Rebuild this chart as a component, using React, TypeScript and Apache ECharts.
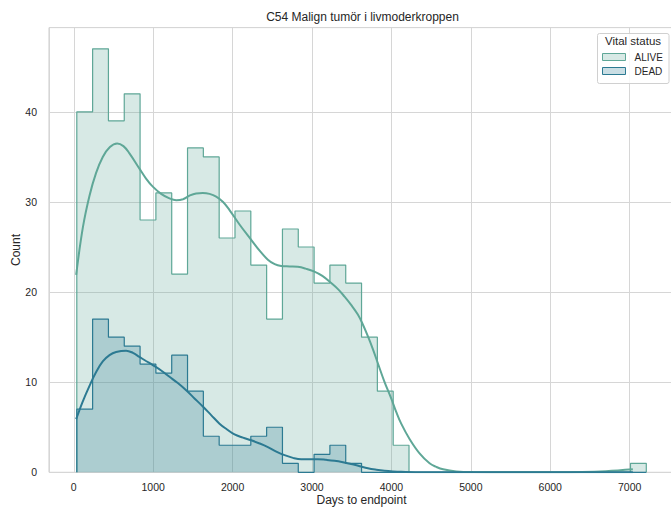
import React, { useEffect, useRef } from "react";
import * as echarts from "echarts";

const TITLE = "C54 Malign tumör i livmoderkroppen";
const X_LABEL = "Days to endpoint";
const Y_LABEL = "Count";
const LEGEND_TITLE = "Vital status";
const GROUPS = ["ALIVE", "DEAD"];

// histogram bins (days)
const BIN_START = 38;
const BIN_WIDTH = 199.2;

const ALIVE_COUNTS = [
  40, 47, 39, 42, 28, 31, 22, 36, 35, 26, 29, 23, 17, 27, 25, 21, 23, 21, 15, 9, 3,
  0, 0, 0, 0, 0, 0, 0, 0, 0, 0, 0, 0, 0, 0, 1,
];
const DEAD_COUNTS = [
  7, 17, 15, 14, 12, 11, 13, 9, 4, 3, 3, 4, 5, 1, 0, 2, 3, 1,
  0, 0, 0, 0, 0, 0, 0, 0, 0, 0, 0, 0, 0, 0, 0, 0, 0, 0,
];

// KDE curves: [days, count]
const ALIVE_KDE = [
  [30, 21.9], [115, 27.2], [198, 30.7], [280, 33.2], [365, 35.0], [455, 36.1], [546, 36.5],
  [625, 36.2], [701, 35.4], [827, 33.7], [910, 32.6],
  [995, 31.7], [1100, 30.9], [1205, 30.4], [1290, 30.2], [1375, 30.3], [1457, 30.7], [1540, 30.95],
  [1625, 31.0], [1710, 30.9], [1793, 30.6], [1880, 30.0],
  [1961, 29.1], [2087, 27.5], [2234, 25.8], [2340, 24.6], [2444, 23.6], [2530, 23.1], [2612, 22.9],
  [2720, 22.85], [2821, 22.8], [2920, 22.6],
  [3023, 22.3], [3130, 21.8], [3242, 21.0], [3330, 20.3], [3409, 19.5], [3490, 18.6], [3577, 17.5],
  [3640, 16.4], [3703, 15.1], [3765, 13.7], [3829, 12.1], [3910, 10.1],
  [3997, 8.2], [4060, 6.7], [4123, 5.4], [4228, 3.7], [4354, 2.1], [4480, 1.0], [4565, 0.6], [4651, 0.33],
  [4816, 0.1], [5030, 0.02], [5500, 0], [6000, 0], [6400, 0.03], [6700, 0.12], [7040, 0.33],
];
const DEAD_KDE = [
  [30, 5.9], [110, 7.8], [198, 9.6], [280, 11.1], [365, 12.3], [450, 13.0], [533, 13.35], [659, 13.5],
  [745, 13.25], [827, 12.8], [910, 12.35],
  [995, 11.9], [1100, 11.3], [1205, 10.6], [1310, 9.9], [1415, 9.1], [1520, 8.2], [1625, 7.3],
  [1730, 6.35], [1835, 5.4], [1930, 4.75], [2024, 4.2], [2130, 3.85],
  [2234, 3.55], [2340, 3.2], [2444, 2.8], [2550, 2.3], [2654, 1.9], [2760, 1.6], [2863, 1.45],
  [2968, 1.45], [3073, 1.45], [3180, 1.38], [3283, 1.28],
  [3390, 1.12], [3493, 0.93], [3600, 0.68], [3703, 0.44], [3810, 0.28], [3913, 0.17], [4020, 0.1],
  [4123, 0.06], [4400, 0.01], [5000, 0], [6000, 0], [7040, 0],
];

const X_TICKS = [0, 1000, 2000, 3000, 4000, 5000, 6000, 7000];
const Y_TICKS = [0, 10, 20, 30, 40];

const ALIVE_COLOR = "#5fa797";
const DEAD_COLOR = "#2c7a92";
const FONT = "'Liberation Sans', Arial, sans-serif";
const TEXT_COLOR = "#262626";
const GRID_COLOR = "#d6d6d6";

function stepData(counts: number[]) {
  const edge = (i: number) => BIN_START + i * BIN_WIDTH;
  const n = counts.length;
  const pts: number[][] = [[edge(0), 0]];
  counts.forEach((c, i) => pts.push([edge(i), c]));
  pts.push([edge(n), counts[n - 1]]);
  pts.push([edge(n), 0]);
  return pts;
}

export default function App() {
  const ref = useRef<HTMLDivElement>(null);
  useEffect(() => {
    document.body.style.margin = "0";
    const chart = echarts.init(ref.current!, null, { renderer: "svg" });
    const histSeries = (name: string, counts: number[], color: string, z: number) => ({
      name,
      type: "line",
      step: "end",
      data: stepData(counts),
      symbol: "none",
      z,
      lineStyle: { color, width: 1.2 },
      itemStyle: { color },
      areaStyle: { color, opacity: 0.25 },
    });
    const kdeSeries = (name: string, data: number[][], color: string) => ({
      name: name + " KDE",
      type: "line",
      data,
      smooth: 0.4,
      symbol: "none",
      z: 5,
      lineStyle: { color, width: 2 },
      itemStyle: { color },
    });
    const textEl = (text: string, x: number, y: number, size: number, extra: any = {}) => ({
      type: "text",
      x,
      y,
      ...extra,
      style: {
        text,
        fill: TEXT_COLOR,
        font: `${size}px ${FONT}`,
        textAlign: "center",
        textVerticalAlign: "middle",
      },
    });
    chart.setOption({
      animation: false,
      textStyle: { fontFamily: FONT },
      grid: {
        left: 49,
        top: 27.6,
        width: 625,
        height: 444.7,
        outerBoundsMode: "none",
        containLabel: false,
        show: true,
        borderColor: "#cccccc",
        borderWidth: 1,
        backgroundColor: "#ffffff",
      },
      xAxis: {
        type: "value",
        min: -312,
        max: 7558,
        splitNumber: 8,
        axisLine: { show: false },
        axisTick: { show: false },
        axisLabel: {
          color: TEXT_COLOR,
          fontSize: 10.5,
          fontFamily: FONT,
          margin: 9,
          formatter: (v: number) => (X_TICKS.includes(v) ? String(v) : ""),
        },
        splitLine: { show: true, lineStyle: { color: GRID_COLOR, width: 1 } },
      },
      yAxis: {
        type: "value",
        min: 0,
        max: 49.35,
        interval: 10,
        axisLine: { show: false },
        axisTick: { show: false },
        axisLabel: {
          color: TEXT_COLOR,
          fontSize: 10.5,
          fontFamily: FONT,
          margin: 12,
          formatter: (v: number) => (Y_TICKS.includes(v) ? String(v) : ""),
        },
        splitLine: { show: true, lineStyle: { color: GRID_COLOR, width: 1 } },
      },
      legend: {
        orient: "vertical",
        left: 602,
        top: 52,
        itemWidth: 23,
        itemHeight: 7,
        itemGap: 4,
        padding: 0,
        z: 120,
        textStyle: { color: TEXT_COLOR, fontSize: 10, fontFamily: FONT, padding: [0, 0, 0, 4] },
        data: [
          { name: GROUPS[0], icon: "rect", itemStyle: { color: "rgba(95,167,151,0.25)", borderColor: ALIVE_COLOR, borderWidth: 1 } },
          { name: GROUPS[1], icon: "rect", itemStyle: { color: "rgba(44,122,146,0.25)", borderColor: DEAD_COLOR, borderWidth: 1 } },
        ],
      },
      graphic: [
        textEl(TITLE, 362.5, 17, 12),
        textEl(X_LABEL, 361.5, 499.5, 12),
        textEl(Y_LABEL, 16, 250, 12, { rotation: Math.PI / 2 }),
        {
          type: "rect",
          z: 100,
          shape: { x: 597.5, y: 33.5, width: 71.5, height: 50, r: 2 },
          style: { fill: "rgba(255,255,255,0.85)", stroke: "#d0d0d0", lineWidth: 1 },
        },
        textEl(LEGEND_TITLE, 633, 41, 11.5, { z: 110 }),
      ],
      series: [
        histSeries(GROUPS[0], ALIVE_COUNTS, ALIVE_COLOR, 2),
        histSeries(GROUPS[1], DEAD_COUNTS, DEAD_COLOR, 3),
        kdeSeries(GROUPS[0], ALIVE_KDE, ALIVE_COLOR),
        kdeSeries(GROUPS[1], DEAD_KDE, DEAD_COLOR),
      ],
    });
    return () => chart.dispose();
  }, []);
  return <div ref={ref} style={{ width: 671, height: 508 }} />;
}
